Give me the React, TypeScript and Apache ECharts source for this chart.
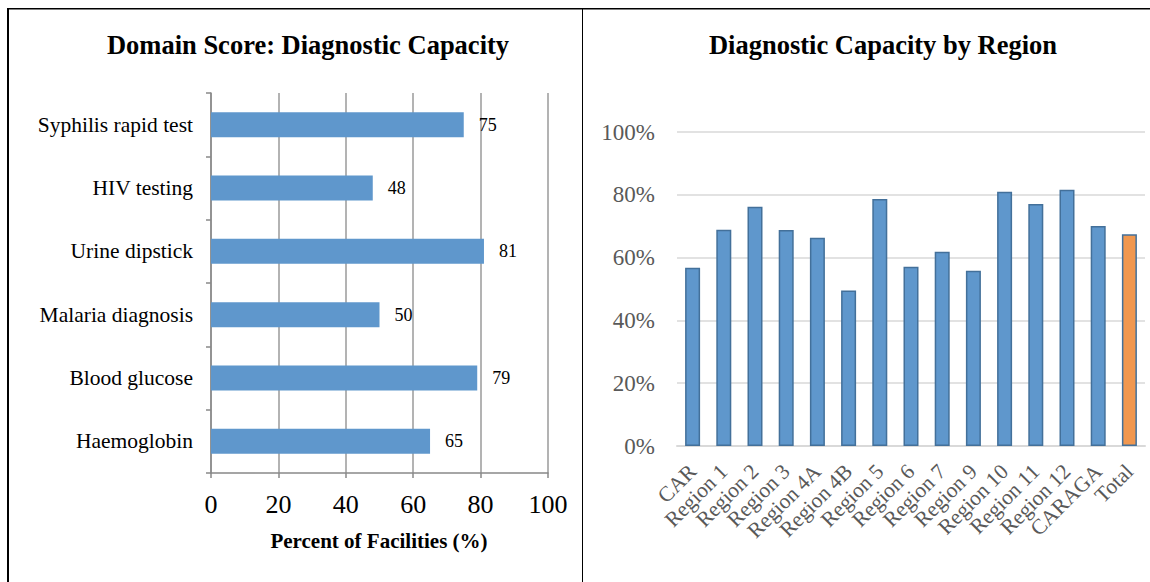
import React, { useEffect, useRef } from "react";
import * as echarts from "echarts";

const testCategories = [
  "Syphilis rapid test",
  "HIV testing",
  "Urine dipstick",
  "Malaria diagnosis",
  "Blood glucose",
  "Haemoglobin",
];
const testValues = [75, 48, 81, 50, 79, 65];
const testTicks = [0, 20, 40, 60, 80, 100];

const regionCategories = [
  "CAR",
  "Region 1",
  "Region 2",
  "Region 3",
  "Region 4A",
  "Region 4B",
  "Region 5",
  "Region 6",
  "Region 7",
  "Region 9",
  "Region 10",
  "Region 11",
  "Region 12",
  "CARAGA",
  "Total",
];
const regionValues = [56.8, 68.9, 76.2, 68.8, 66.3, 49.5, 78.7, 57.1, 61.9, 55.8, 81.0, 77.1, 81.6, 70.1, 67.4];
const regionTicks = [0, 20, 40, 60, 80, 100];

const FONT = "'Liberation Serif', 'Times New Roman', serif";
const BLUE = "#5f97cc";
const BORDER = "#43709a";
const ORANGE = "#f0974f";

export default function App() {
  const ref = useRef<HTMLDivElement>(null);
  useEffect(() => {
    if (!ref.current) return;
    const chart = echarts.init(ref.current, undefined, { renderer: "svg" });
    const option: any = {
      animation: false,
      backgroundColor: "#ffffff",
      textStyle: { fontFamily: FONT },
      grid: [
        { left: 211, top: 93, width: 337, height: 380, containLabel: false },
        { left: 677, top: 132, width: 468, height: 314, containLabel: false },
      ],
      xAxis: [
        {
          gridIndex: 0,
          type: "value",
          min: testTicks[0],
          max: testTicks[testTicks.length - 1],
          interval: testTicks[1] - testTicks[0],
          axisLine: { show: true, lineStyle: { color: "#888888", width: 1.5 } },
          axisTick: { show: true, length: 5, lineStyle: { color: "#888888", width: 1.5 } },
          splitLine: { show: true, lineStyle: { color: "#9a9a9a", width: 1.5 } },
          axisLabel: { fontSize: 26, color: "#000000", fontFamily: FONT, margin: 18 },
        },
        {
          gridIndex: 1,
          type: "category",
          data: regionCategories,
          axisLine: { show: true, lineStyle: { color: "#d9d9d9", width: 2 } },
          axisTick: { show: false },
          axisLabel: {
            rotate: 45,
            fontSize: 21.5,
            color: "#595959",
            fontFamily: FONT,
            margin: 22,
            interval: 0,
          },
        },
      ],
      yAxis: [
        {
          gridIndex: 0,
          type: "category",
          data: testCategories,
          inverse: true,
          axisLine: { show: true, lineStyle: { color: "#888888", width: 1.5 } },
          axisTick: { show: true, length: 5, lineStyle: { color: "#888888", width: 1.5 } },
          axisLabel: { fontSize: 21.5, color: "#000000", fontFamily: FONT, margin: 18 },
        },
        {
          gridIndex: 1,
          type: "value",
          min: regionTicks[0],
          max: regionTicks[regionTicks.length - 1],
          interval: regionTicks[1] - regionTicks[0],
          axisLine: { show: false },
          axisTick: { show: false },
          splitLine: { show: true, lineStyle: { color: "#d9d9d9", width: 1.5 } },
          axisLabel: {
            formatter: "{value}%",
            fontSize: 23,
            color: "#595959",
            fontFamily: FONT,
            margin: 22,
          },
        },
      ],
      series: [
        {
          type: "bar",
          xAxisIndex: 0,
          yAxisIndex: 0,
          data: testValues,
          barWidth: 25,
          itemStyle: { color: BLUE },
          label: {
            show: true,
            position: "right",
            distance: 15,
            fontSize: 18,
            color: "#000000",
            fontFamily: FONT,
          },
        },
        {
          type: "bar",
          xAxisIndex: 1,
          yAxisIndex: 1,
          barWidth: 15,
          data: regionValues.map((v, i) => ({
            value: v,
            itemStyle: {
              color: regionCategories[i] === "Total" ? ORANGE : BLUE,
              borderColor: BORDER,
              borderWidth: 1.5,
            },
          })),
        },
      ],
      graphic: [
        { type: "rect", shape: { x: 7, y: 8, width: 1143, height: 1.5 }, style: { fill: "#000" } },
        { type: "rect", shape: { x: 7, y: 8, width: 2, height: 574 }, style: { fill: "#000" } },
        { type: "rect", shape: { x: 582, y: 8, width: 1, height: 574 }, style: { fill: "#000" } },
        {
          type: "text",
          x: 308,
          y: 45,
          style: {
            text: "Domain Score: Diagnostic Capacity",
            font: `bold 26.5px ${FONT}`,
            fill: "#000",
            textAlign: "center",
            textVerticalAlign: "middle",
          },
        },
        {
          type: "text",
          x: 883,
          y: 45,
          style: {
            text: "Diagnostic Capacity by Region",
            font: `bold 26.5px ${FONT}`,
            fill: "#000",
            textAlign: "center",
            textVerticalAlign: "middle",
          },
        },
        {
          type: "text",
          x: 379,
          y: 541,
          style: {
            text: "Percent of Facilities (%)",
            font: `bold 21px ${FONT}`,
            fill: "#000",
            textAlign: "center",
            textVerticalAlign: "middle",
          },
        },
      ],
    };
    chart.setOption(option);
    return () => chart.dispose();
  }, []);
  return (
    <div
      ref={ref}
      style={{ position: "fixed", left: 0, top: 0, width: 1150, height: 582 }}
    />
  );
}
